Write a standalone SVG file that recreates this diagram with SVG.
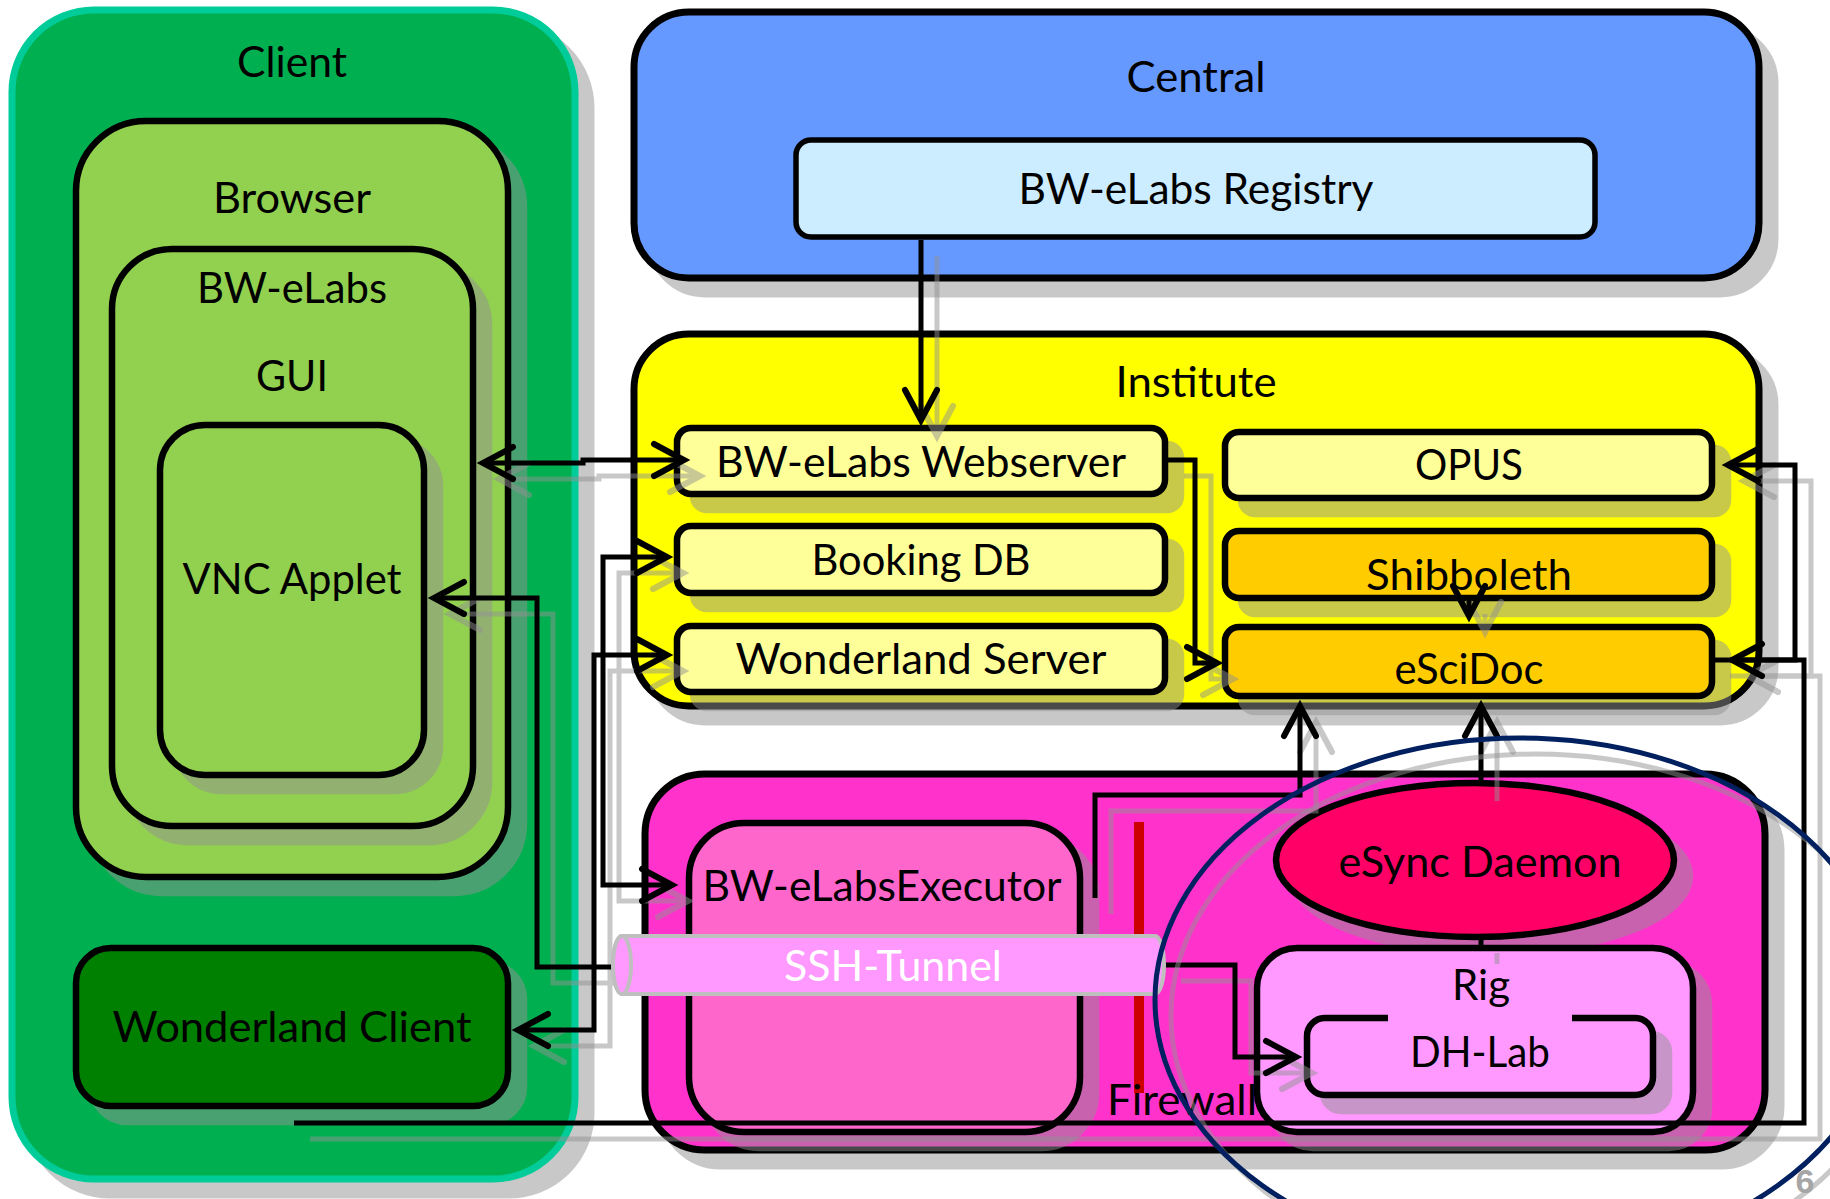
<svg xmlns="http://www.w3.org/2000/svg" width="1830" height="1199" viewBox="0 0 1830 1199">
<defs>
<style>
.t{font-family:Lato,'Open Sans','Liberation Sans',sans-serif;font-size:42px;text-anchor:middle;fill:#000}
.box{stroke:#000;stroke-width:6.5}
.con{fill:none;stroke:#000;stroke-width:5;stroke-linejoin:miter}
.cs{fill:none;stroke:#929292;stroke-width:5}
</style>
<filter id="sh" x="-15%" y="-15%" width="140%" height="160%" color-interpolation-filters="sRGB">
<feOffset in="SourceAlpha" dx="16" dy="16" result="o"/>
<feFlood flood-color="#929292" flood-opacity="0.5"/>
<feComposite in2="o" operator="in" result="s"/>
<feMerge><feMergeNode in="s"/><feMergeNode in="SourceGraphic"/></feMerge>
</filter>
<marker id="ah" markerUnits="userSpaceOnUse" markerWidth="44" markerHeight="44" viewBox="0 0 44 44" refX="36" refY="22" orient="auto-start-reverse">
<path d="M6,6 L36,22 L6,38" fill="none" stroke="#000" stroke-width="6" stroke-linecap="round"/>
</marker>
<marker id="ahs" markerUnits="userSpaceOnUse" markerWidth="44" markerHeight="44" viewBox="0 0 44 44" refX="36" refY="22" orient="auto-start-reverse">
<path d="M6,6 L36,22 L6,38" fill="none" stroke="#929292" stroke-width="6" stroke-linecap="round"/>
</marker>
</defs>
<rect width="1830" height="1199" fill="#fff"/>

<g id="client">
<rect x="12" y="10" width="563" height="1169" rx="82" fill="#00B050" stroke="#00CC99" stroke-width="7" filter="url(#sh)"/>
<text class="t" x="292" y="77" textLength="110" lengthAdjust="spacingAndGlyphs">Client</text>
</g>
<g id="browser">
<rect x="76" y="121" width="432" height="756" rx="70" class="box" fill="#92D050" filter="url(#sh)"/>
<text class="t" x="292" y="213" textLength="158" lengthAdjust="spacingAndGlyphs">Browser</text>
</g>
<g id="gui">
<rect x="112" y="249" width="361" height="577" rx="60" class="box" fill="#92D050" filter="url(#sh)"/>
<text class="t" x="292" y="303" textLength="190" lengthAdjust="spacingAndGlyphs">BW-eLabs</text>
<text class="t" x="292" y="391" textLength="72" lengthAdjust="spacingAndGlyphs">GUI</text>
</g>
<g id="vnc">
<rect x="160" y="425" width="264" height="350" rx="45" class="box" fill="#92D050" filter="url(#sh)"/>
<text class="t" x="292" y="594" textLength="219" lengthAdjust="spacingAndGlyphs">VNC Applet</text>
</g>
<g id="wonderland-client">
<rect x="76" y="948" width="432" height="158" rx="35" class="box" fill="#008000" filter="url(#sh)"/>
<text class="t" x="292" y="1042" textLength="359" lengthAdjust="spacingAndGlyphs">Wonderland Client</text>
</g>

<g id="central">
<rect x="634" y="12" width="1125" height="266" rx="55" stroke="#000" stroke-width="7" fill="#6699FF" filter="url(#sh)"/>
<text class="t" x="1196" y="92" textLength="139" lengthAdjust="spacingAndGlyphs">Central</text>
</g>
<g id="registry">
<rect x="796" y="140" width="799" height="97" rx="15" stroke="#000" stroke-width="5.5" fill="#CCECFF"/>
<text class="t" x="1196" y="204" textLength="355" lengthAdjust="spacingAndGlyphs">BW-eLabs Registry</text>
</g>

<g id="institute">
<rect x="634" y="334" width="1125" height="372" rx="55" stroke="#000" stroke-width="7" fill="#FFFF00" filter="url(#sh)"/>
<text class="t" x="1196" y="397" textLength="161" lengthAdjust="spacingAndGlyphs">Institute</text>
</g>
<g id="webserver">
<rect x="677" y="428" width="488" height="66" rx="14" class="box" fill="#FFFF99" filter="url(#sh)"/>
<text class="t" x="921" y="477" textLength="410" lengthAdjust="spacingAndGlyphs">BW-eLabs Webserver</text>
</g>
<g id="booking-db">
<rect x="677" y="526" width="488" height="67" rx="14" class="box" fill="#FFFF99" filter="url(#sh)"/>
<text class="t" x="921" y="575" textLength="219" lengthAdjust="spacingAndGlyphs">Booking DB</text>
</g>
<g id="wonderland-server">
<rect x="677" y="626" width="488" height="66" rx="14" class="box" fill="#FFFF99" filter="url(#sh)"/>
<text class="t" x="921" y="674" textLength="371" lengthAdjust="spacingAndGlyphs">Wonderland Server</text>
</g>
<g id="opus">
<rect x="1225" y="432" width="487" height="66" rx="14" class="box" fill="#FFFF99" filter="url(#sh)"/>
<text class="t" x="1469" y="480" textLength="108" lengthAdjust="spacingAndGlyphs">OPUS</text>
</g>
<g id="shibboleth">
<rect x="1225" y="531" width="487" height="67" rx="14" class="box" fill="#FFCC00" filter="url(#sh)"/>
<text class="t" x="1469" y="590" textLength="206" lengthAdjust="spacingAndGlyphs">Shibboleth</text>
</g>
<g id="escidoc">
<rect x="1225" y="627" width="487" height="69" rx="14" class="box" fill="#FFCC00" filter="url(#sh)"/>
<text class="t" x="1469" y="684" textLength="149" lengthAdjust="spacingAndGlyphs">eSciDoc</text>
</g>

<g id="lab">
<rect x="645" y="774" width="1120" height="376" rx="60" stroke="#000" stroke-width="7" fill="#FF33CC" filter="url(#sh)"/>
</g>
<g id="executor">
<rect x="689" y="823" width="391" height="309" rx="55" class="box" fill="#FF66CC" filter="url(#sh)"/>
<text class="t" x="882" y="901" textLength="359" lengthAdjust="spacingAndGlyphs">BW-eLabsExecutor</text>
</g>
<g id="firewall">
<line x1="1139" y1="822" x2="1139" y2="1093" stroke="#CC0000" stroke-width="10"/>
<text class="t" x="1107" y="1115" style="text-anchor:start" textLength="150" lengthAdjust="spacingAndGlyphs">Firewall</text>
</g>
<g id="esync">
<ellipse cx="1475" cy="860" rx="199" ry="77" class="box" fill="#FF0066" filter="url(#sh)"/>
<text class="t" x="1480" y="877" textLength="283" lengthAdjust="spacingAndGlyphs">eSync Daemon</text>
</g>
<g id="rig">
<rect x="1257" y="948" width="436" height="184" rx="40" class="box" fill="#FF99FF" filter="url(#sh)"/>
<text class="t" x="1481" y="1000" textLength="58" lengthAdjust="spacingAndGlyphs">Rig</text>
</g>
<g id="dh-lab">
<g filter="url(#sh)">
<rect x="1307" y="1018" width="346" height="77" rx="18" fill="#FF99FF"/>
<path d="M1388,1018 H1325 A18,18 0 0 0 1307,1036 V1077 A18,18 0 0 0 1325,1095 H1635 A18,18 0 0 0 1653,1077 V1036 A18,18 0 0 0 1635,1018 H1572" class="box" fill="none"/>
</g>
<text class="t" x="1480" y="1067" textLength="140" lengthAdjust="spacingAndGlyphs">DH-Lab</text>
</g>

<g id="connectors">
<g opacity="0.5" transform="translate(16,16)">
<path class="cs" d="M921,240 V420" marker-end="url(#ahs)"/>
<path class="cs" d="M483,463 H583 V460 H684" marker-start="url(#ahs)" marker-end="url(#ahs)"/>
<path class="cs" d="M667,557 H603 V885 H672" marker-start="url(#ahs)" marker-end="url(#ahs)"/>
<path class="cs" d="M667,655 H594 V1030 H518" marker-start="url(#ahs)" marker-end="url(#ahs)"/>
<path class="cs" d="M619,967 H537 V598 H434" marker-end="url(#ahs)"/>
<path class="cs" d="M1165,965 H1235 V1057 H1296" marker-end="url(#ahs)"/>
<path class="cs" d="M1168,460 H1195 V663 H1217" marker-end="url(#ahs)"/>
<path class="cs" d="M1469,598 V616" marker-end="url(#ahs)"/>
<path class="cs" d="M1095,898 V795 H1300 V706" marker-end="url(#ahs)"/>
<path class="cs" d="M1481,785 V706" marker-end="url(#ahs)"/>
<path class="cs" d="M1481,937 V948"/>
<path class="cs" d="M294,1123 H1804 V660 H1732" marker-end="url(#ahs)"/>
<path class="cs" d="M1714,660 H1795 V465 H1728" marker-end="url(#ahs)"/>
</g>
<path class="con" d="M921,240 V420" marker-end="url(#ah)"/>
<path class="con" d="M483,463 H583 V460 H684" marker-start="url(#ah)" marker-end="url(#ah)"/>
<path class="con" d="M667,557 H603 V885 H672" marker-start="url(#ah)" marker-end="url(#ah)"/>
<path class="con" d="M667,655 H594 V1030 H518" marker-start="url(#ah)" marker-end="url(#ah)"/>
<path class="con" d="M619,967 H537 V598 H434" marker-end="url(#ah)"/>
<path class="con" d="M1165,965 H1235 V1057 H1296" marker-end="url(#ah)"/>
<path class="con" d="M1168,460 H1195 V663 H1217" marker-end="url(#ah)"/>
<path class="con" d="M1469,598 V616" marker-end="url(#ah)"/>
<path class="con" d="M1095,898 V795 H1300 V706" marker-end="url(#ah)"/>
<path class="con" d="M1481,785 V706" marker-end="url(#ah)"/>
<path class="con" d="M1481,937 V948"/>
<path class="con" d="M294,1123 H1804 V660 H1732" marker-end="url(#ah)"/>
<path class="con" d="M1714,660 H1795 V465 H1728" marker-end="url(#ah)"/>
</g>

<g id="ssh-tunnel">
<path d="M622,936 H1155 A9,29 0 0 1 1155,994 H622 A9,29 0 0 1 622,936 Z" fill="#FF99FF" stroke="#BFBFBF" stroke-width="4"/>
<ellipse cx="622" cy="965" rx="9" ry="29" fill="#FF99FF" stroke="#BFBFBF" stroke-width="4"/>
<text class="t" x="893" y="981" style="fill:#fff" textLength="218" lengthAdjust="spacingAndGlyphs">SSH-Tunnel</text>
</g>

<g id="highlight">
<ellipse cx="1520" cy="1000" rx="365" ry="262" fill="none" stroke="#002060" stroke-width="5" filter="url(#sh)"/>
</g>
<text x="1805" y="1193" style="font-family:'Liberation Sans',Arial,sans-serif;font-size:34px;font-weight:bold;fill:#A6A6A6;text-anchor:middle">6</text>
</svg>
